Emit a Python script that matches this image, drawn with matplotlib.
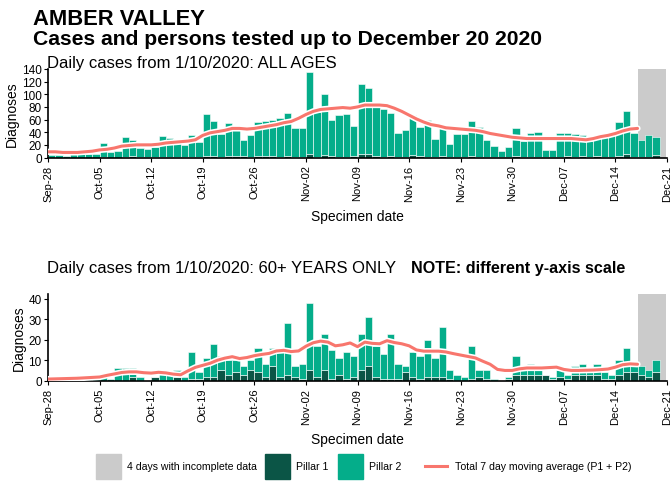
import datetime as dt
import numpy as np
import matplotlib
matplotlib.use("Agg")
import matplotlib.pyplot as plt
import matplotlib.dates as mdates
import matplotlib.patheffects as pe
from matplotlib.patches import Rectangle
from matplotlib.lines import Line2D

plt.rcParams['font.family'] = ['Liberation Sans', 'DejaVu Sans']

# ---------------- data ----------------
start_date = "2020-09-28"
n_days = 84
incomplete_days = 4
tick_labels_dates = ["2020-09-28", "2020-10-05", "2020-10-12", "2020-10-19", "2020-10-26",
                     "2020-11-02", "2020-11-09", "2020-11-16", "2020-11-23", "2020-11-30",
                     "2020-12-07", "2020-12-14", "2020-12-21"]

all_total = [4, 4, 3, 5, 5, 6, 6, 23, 9, 10, 33, 28, 15, 13, 16, 34, 31, 30, 20, 36,
             24, 69, 57, 37, 55, 44, 27, 35, 56, 57, 60, 62, 70, 47, 47, 136, 72, 101, 60, 67,
             69, 50, 116, 110, 80, 76, 70, 38, 43, 68, 49, 60, 29, 48, 21, 37, 37, 58, 49, 28,
             18, 10, 17, 46, 26, 39, 40, 12, 12, 39, 39, 37, 35, 26, 33, 35, 39, 56, 73, 39,
             28, 36, 33, 0]
all_p1 = [0, 0, 0, 0, 0, 0, 0, 1, 0, 0, 1, 3, 1, 1, 1, 1, 1, 1, 1, 1,
          1, 2, 2, 1, 2, 2, 2, 1, 2, 3, 2, 1, 2, 1, 1, 5, 1, 4, 2, 1,
          1, 2, 5, 6, 3, 1, 2, 1, 1, 4, 2, 1, 1, 2, 1, 1, 1, 2, 1, 1,
          1, 1, 1, 2, 1, 1, 1, 1, 1, 1, 2, 1, 2, 1, 2, 1, 1, 2, 5, 1,
          1, 1, 4, 0]
all_ma = [9, 9, 8, 8, 8, 9, 10, 12, 13, 15, 18, 19, 20, 20, 20, 21, 23, 24, 25, 26,
          28, 35, 39, 41, 43, 46, 46, 45, 46, 48, 50, 52, 55, 57, 62, 68, 73, 76, 77, 78,
          79, 78, 80, 83, 83, 83, 82, 78, 73, 67, 61, 56, 52, 50, 47, 46, 45, 44, 43, 41,
          38, 36, 34, 32, 31, 30, 30, 30, 30, 30, 30, 30, 29, 28, 30, 33, 35, 38, 42, 45, 46]

old_total = [0, 0, 1, 1, 3, 1, 1, 3, 1, 6, 6, 6, 2, 0, 2, 5, 3, 5, 2, 14,
             4, 11, 18, 12, 10, 10, 7, 10, 16, 8, 16, 14, 28, 7, 8, 38, 17, 23, 15, 11,
             14, 12, 23, 31, 17, 13, 23, 8, 7, 14, 12, 20, 11, 26, 5, 3, 2, 17, 5, 5,
             1, 0, 2, 12, 6, 8, 5, 3, 2, 5, 3, 7, 8, 5, 8, 4, 3, 10, 16, 7,
             7, 5, 10, 0]
old_p1 = [0, 0, 0, 0, 0, 0, 0, 0, 0, 0, 0, 2, 0, 0, 2, 0, 0, 2, 0, 1,
          1, 2, 2, 5, 3, 4, 3, 5, 4, 2, 7, 2, 3, 2, 1, 5, 2, 5, 1, 3,
          1, 2, 5, 7, 2, 1, 1, 1, 4, 2, 1, 2, 2, 2, 1, 0, 0, 1, 2, 1,
          0, 0, 1, 3, 3, 3, 3, 3, 1, 2, 1, 3, 3, 3, 3, 1, 1, 3, 4, 4,
          3, 2, 4, 0]
old_ma = [0.8, 0.9, 1.0, 1.1, 1.2, 1.4, 1.6, 1.8, 2.6, 3.3, 4.0, 4.3, 4.3, 3.9, 3.7, 4.1, 3.8, 3.2, 2.9, 4.8,
          6.5, 7.5, 8.5, 10.0, 11.0, 11.7, 10.8, 11.3, 12.2, 12.8, 13.3, 14.5, 14.8, 14.2, 14.5, 16.8, 18.5, 19.3, 18.8, 17.0,
          17.5, 18.4, 16.6, 18.8, 18.2, 18.0, 19.5, 18.6, 18.0, 17.0, 15.0, 14.4, 14.4, 14.4, 14.0, 13.2, 12.5, 11.8, 11.1, 9.5,
          8.0, 5.5, 5.0, 5.0, 5.8, 6.2, 6.2, 6.2, 6.4, 6.6, 5.5, 5.0, 5.0, 5.1, 5.2, 5.4, 5.7, 6.6, 7.8, 8.2, 8.0]

# ---------------- style ----------------
C_P1 = "#0b5546"
C_P2 = "#04ad8a"
C_GREY = "#cbcbcb"
C_LINE = "#f8766d"

start = dt.date.fromisoformat(start_date)
dates = [start + dt.timedelta(days=i) for i in range(n_days)]
x = mdates.date2num(dates)
ticks = mdates.date2num([dt.date.fromisoformat(d) for d in tick_labels_dates])

fig = plt.figure(figsize=(6.7, 4.85), dpi=100)
W, H = 670.0, 485.0


def panel(rect, total, p1, ma, ymax, yticks):
    ax = fig.add_axes(rect)
    total = np.array(total, float)
    p1 = np.array(p1, float)
    p2 = total - p1
    ax.axvspan(x[-incomplete_days], x[-1] + 0.85, color=C_GREY, lw=0, zorder=0)
    ax.bar(x, p1, width=1.0, align="edge", color=C_P1, edgecolor="white", linewidth=0.4, zorder=2)
    ax.bar(x, p2, width=1.0, align="edge", bottom=p1, color=C_P2, edgecolor="white",
           linewidth=0.4, zorder=2)
    ax.plot(x[:len(ma)], ma, color=C_LINE, lw=2.2, zorder=4, solid_capstyle="round",
            path_effects=[pe.Stroke(linewidth=4.5, foreground="white"), pe.Normal()])
    ax.set_xlim(ticks[0], ticks[-1])
    ax.set_ylim(0, ymax)
    ax.set_yticks(yticks)
    ax.set_xticks(ticks)
    ax.set_xticklabels([mdates.num2date(t).strftime("%b-%d") for t in ticks], rotation=90,
                       fontsize=8)
    ax.tick_params(axis="y", labelsize=8.5, length=3, pad=1.5)
    ax.tick_params(axis="x", length=3, pad=2)
    for s in ("top", "right"):
        ax.spines[s].set_visible(False)
    for s in ("left", "bottom"):
        ax.spines[s].set_linewidth(1.2)
    ax.set_ylabel("Diagnoses", fontsize=10, labelpad=2)
    ax.set_xlabel("Specimen date", fontsize=10, labelpad=6)
    return ax


ax1 = panel([48 / W, 1 - 158.5 / H, 619 / W, 88.5 / H], all_total, all_p1, all_ma, 140,
            np.arange(0, 141, 20))
ax2 = panel([48 / W, 1 - 381.7 / H, 619 / W, 87.2 / H], old_total, old_p1, old_ma, 42.5,
            np.arange(0, 41, 10))

fig.text(33 / W, 1 - 25 / H, "AMBER VALLEY", fontsize=15.8, fontweight="bold", va="baseline")
fig.text(33 / W, 1 - 45 / H, "Cases and persons tested up to December 20 2020", fontsize=15.2,
         fontweight="bold", va="baseline")
fig.text(47 / W, 1 - 68 / H, "Daily cases from 1/10/2020: ALL AGES", fontsize=12, va="baseline")
fig.text(47 / W, 1 - 273 / H, "Daily cases from 1/10/2020: 60+ YEARS ONLY", fontsize=12,
         va="baseline")
fig.text(411 / W, 1 - 273 / H, "NOTE: different y-axis scale", fontsize=11.6, fontweight="bold",
         va="baseline")

# legend
ly = 1 - 467 / H
sq_w, sq_h = 25 / W, 25 / H
items = [(96, C_GREY, "4 days with incomplete data"), (265, C_P1, "Pillar 1"),
         (338, C_P2, "Pillar 2")]
for px, col, lab in items:
    fig.add_artist(Rectangle((px / W, ly - sq_h / 2), sq_w, sq_h, color=col, transform=fig.transFigure))
    fig.text((px + 31) / W, ly, lab, fontsize=7.6, va="center")
fig.add_artist(Line2D([425 / W, 447 / W], [ly, ly], color=C_LINE, lw=2.2, transform=fig.transFigure))
fig.text(455 / W, ly, "Total 7 day moving average (P1 + P2)", fontsize=7.6, va="center")

fig.savefig("out.png", dpi=100)
